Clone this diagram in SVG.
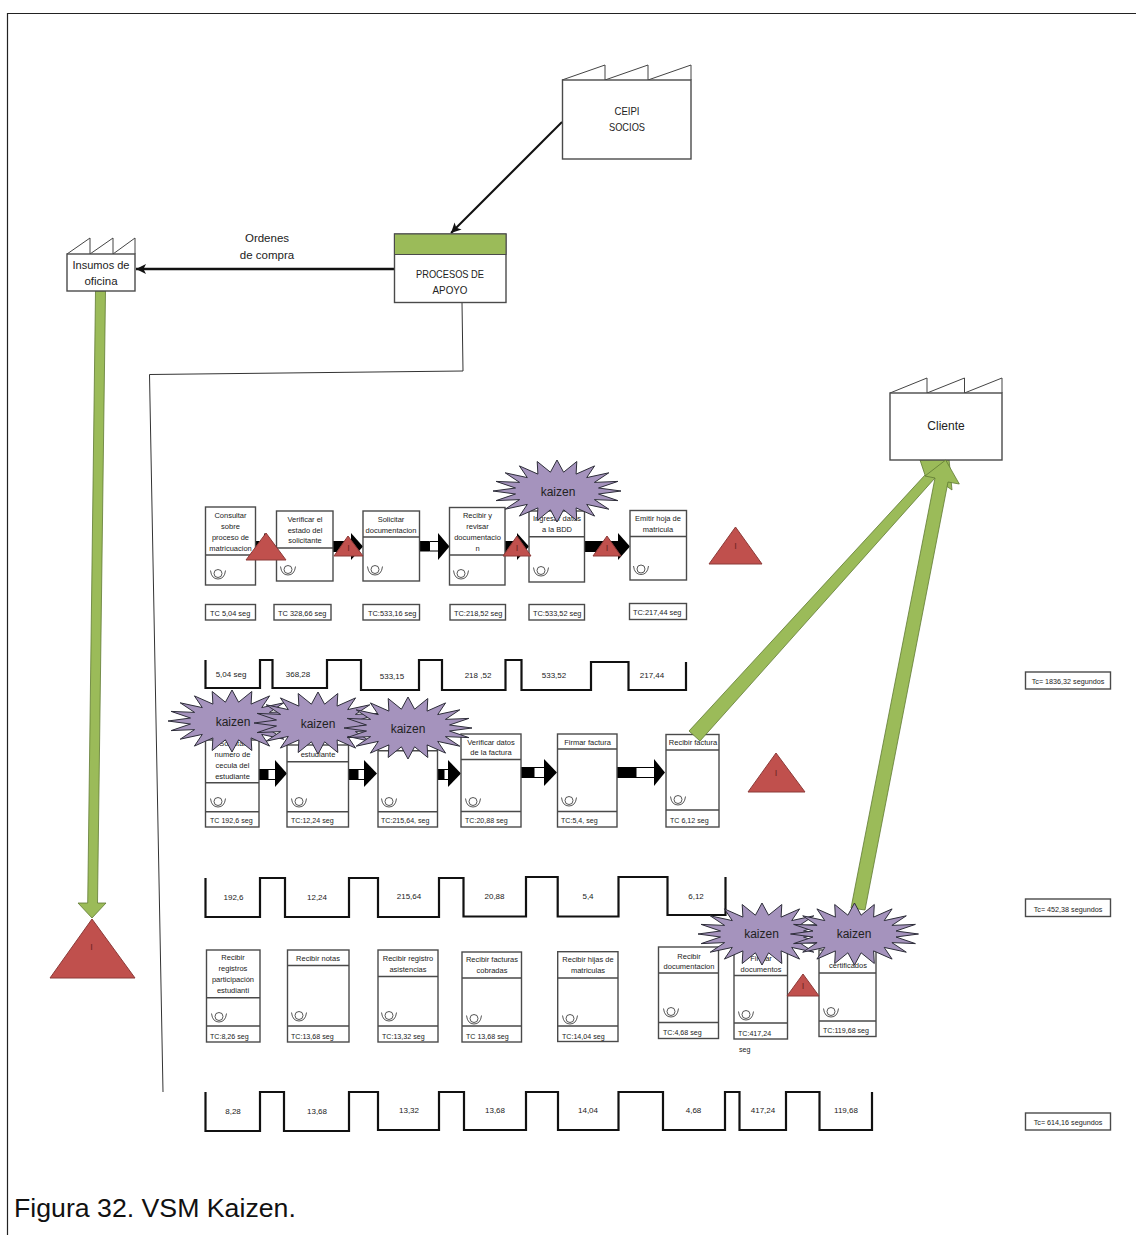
<svg xmlns="http://www.w3.org/2000/svg" width="1136" height="1236" viewBox="0 0 1136 1236">
<style>
text{font-family:"Liberation Sans",Arial,sans-serif;fill:#222;font-size:7.500px}
text:not([class]){font-size:7.100px}
#tc1 text{font-size:7.400px}
#tl1t text,#tl2t text,#tl3t text{font-size:8px}
.c{text-anchor:middle}
.box{fill:#fff;stroke:#4a4a4a;stroke-width:1.4}
.div{stroke:#4a4a4a;stroke-width:1.4;fill:none}
.tl{fill:none;stroke:#111;stroke-width:2.2;stroke-linejoin:miter}
.op{fill:none;stroke:#444;stroke-width:.9}
.red{fill:#c0504d;stroke:#8c3a38;stroke-width:1}
.grn{fill:#9bbb59;stroke:#5f7a32;stroke-width:.8}
.star{fill:#a593bd;stroke:#2e2e3a;stroke-width:1}
.k{font-size:12px;text-anchor:middle}
.m{font-size:11.500px;text-anchor:middle}
.i{font-size:9px;text-anchor:middle;fill:#6e2523}
</style>
<defs>
<g id="op"><circle r="4" cy="-.5" class="op"/><path class="op" d="M-7.500-3.500Q-6.500 5 0 5Q6.500 5 7.500-3.500"/></g>
<polygon id="kz" class="star" points="64,0 41.5,3 60.9,9.6 37.4,8.6 51.8,18.2 29.7,13.4 37.6,25.1 19.1,16.9 19.8,29.5 6.6,18.8 0,31 -6.6,18.8 -19.8,29.5 -19.1,16.9 -37.6,25.1 -29.7,13.4 -51.8,18.2 -37.4,8.6 -60.9,9.6 -41.5,3 -64,0 -41.5,-3 -60.9,-9.6 -37.4,-8.6 -51.8,-18.2 -29.7,-13.4 -37.6,-25.1 -19.1,-16.9 -19.8,-29.5 -6.6,-18.8 0,-31 6.6,-18.8 19.8,-29.5 19.1,-16.9 37.6,-25.1 29.7,-13.4 51.8,-18.2 37.4,-8.6 60.9,-9.6 41.5,-3"/>
<marker id="ah" markerUnits="userSpaceOnUse" markerWidth="12" markerHeight="12" refX="10" refY="5" orient="auto"><path d="M0 0L10 5L0 10L2.500 5Z" fill="#111"/></marker>
</defs>
<rect width="1136" height="1236" fill="#fff"/>
<path id="frame" d="M7.500 1235V13.500H1136" fill="none" stroke="#222" stroke-width="1.2"/>

<g id="connectors">
<path d="M562 122L451 233" stroke="#111" stroke-width="2" fill="none" marker-end="url(#ah)"/>
<path d="M394 269H136" stroke="#111" stroke-width="2.400" fill="none" marker-end="url(#ah)"/>
<path d="M462 302.500L463 371L149.500 374.500L163 1092" stroke="#333" stroke-width="1" fill="none"/>
<polygon class="grn" points="95.500,291 105.500,291 97.500,903 106,903 92,918 78,903 87.700,903"/>
<path d="M255 541h10v10h-10z" fill="#000"/><path d="M264 533l12 13.500-12 13.500z" fill="#000"/>
<path d="M333 541h16v11h-16z" fill="#000"/><path d="M351 533l12 13.500-12 13.500z" fill="#000"/>
<path d="M419.500 541h10v10.500h-10z" fill="#000"/><path d="M429.500 541.500h9v9.500h-9z" fill="#fff" stroke="#000"/><path d="M438 533l11.500 13.500-11.500 13.500z" fill="#000"/>
<path d="M505 541h14v11h-14z" fill="#000"/><path d="M517 533l12 13.500-12 13.500z" fill="#000"/>
<path d="M584.500 541h36v11h-36z" fill="#000"/><path d="M618 533l12 13.500-12 13.500z" fill="#000"/>
<path d="M259 769h9v11h-9z" fill="#000"/><path d="M268 769.500h8v10h-8z" fill="#fff" stroke="#000"/><path d="M275 760l12 13.500-12 13.500z" fill="#000"/>
<path d="M348 769h10v11h-10z" fill="#000"/><path d="M358 769.500h7v10h-7z" fill="#fff" stroke="#000"/><path d="M364 760l13 13.500-13 13.500z" fill="#000"/>
<path d="M438 769h6v11h-6z" fill="#000"/><path d="M444 769.500h5v10h-5z" fill="#fff" stroke="#000"/><path d="M448 760l13 13.500-13 13.500z" fill="#000"/>
<path d="M521 767h13v11h-13z" fill="#000"/><path d="M534 767.500h11v10h-11z" fill="#fff" stroke="#000"/><path d="M544 759l13 13.500-13 13.500z" fill="#000"/>
<path d="M617 767h19v11h-19z" fill="#000"/><path d="M636 767.500h19v10h-19z" fill="#fff" stroke="#000"/><path d="M654 759l11 13.500-11 13.500z" fill="#000"/>
</g>

<g id="ceipi"><path d="M562 80L605 65V80L648 65V80L691 65V80" fill="none" stroke="#444"/><rect class="box" x="562.500" y="80" width="128.500" height="79"/><text class="m" x="627" y="115" textLength="25" lengthAdjust="spacingAndGlyphs">CEIPI</text><text class="m" x="627" y="131" textLength="36" lengthAdjust="spacingAndGlyphs">SOCIOS</text></g>
<g id="insumos"><path d="M67 254L90 238V254L113 238V254L135 238V254" fill="none" stroke="#444"/><rect class="box" x="67" y="254" width="68" height="37"/><text class="m" x="101" y="269" textLength="57" lengthAdjust="spacingAndGlyphs">Insumos de</text><text class="m" x="101" y="285">oficina</text></g>
<g id="apoyo"><rect class="box" x="394.500" y="234" width="111.500" height="68.500"/><rect x="394.500" y="234" width="111.500" height="20.500" fill="#9bbb59" stroke="#4a4a4a"/><text class="m" x="450" y="278" textLength="68" lengthAdjust="spacingAndGlyphs">PROCESOS DE</text><text class="m" x="450" y="294" textLength="35" lengthAdjust="spacingAndGlyphs">APOYO</text></g>
<g id="ordenes"><text class="m" x="267" y="242">Ordenes</text><text class="m" x="267" y="259">de compra</text></g>

<g id="row1">
<g id="p1-1"><rect class="box" x="205.500" y="507" width="50" height="78"/><path class="div" d="M205.500 555h50"/><text class="c" x="230.500" y="517.500">Consultar</text><text class="c" x="230.500" y="528.500">sobre</text><text class="c" x="230.500" y="539.500">proceso de</text><text class="c" x="230.500" y="550.500">matricuacion</text><use href="#op" x="218" y="574"/></g>
<g id="p1-2"><rect class="box" x="276.500" y="511" width="56.500" height="70"/><path class="div" d="M276.500 548h56.500"/><text class="c" x="305" y="522">Verificar el</text><text class="c" x="305" y="533">estado del</text><text class="c" x="305" y="543">solicitante</text><use href="#op" x="288" y="570"/></g>
<g id="p1-3"><rect class="box" x="363" y="511" width="56.500" height="70"/><path class="div" d="M363 537h56.500"/><text class="c" x="391" y="522">Solicitar</text><text class="c" x="391" y="533">documentacion</text><use href="#op" x="375" y="570"/></g>
<g id="p1-4"><rect class="box" x="449.500" y="507.500" width="55.500" height="77.500"/><path class="div" d="M449.500 555h55.500"/><text class="c" x="477.500" y="518">Recibir y</text><text class="c" x="477.500" y="529">revisar</text><text class="c" x="477.500" y="540">documentacio</text><text class="c" x="477.500" y="551">n</text><use href="#op" x="461" y="574"/></g>
<g id="p1-5"><rect class="box" x="529" y="511" width="55.500" height="71"/><path class="div" d="M529 536.700h55.500"/><text class="c" x="557" y="521">Ingresar datos</text><text class="c" x="557" y="532">a la BDD</text><use href="#op" x="541" y="571"/></g>
<g id="p1-6"><rect class="box" x="630" y="510.500" width="56.500" height="69.500"/><path class="div" d="M630 536.500h56.500"/><text class="c" x="658" y="521">Emitir hoja de</text><text class="c" x="658" y="532">matricula</text><use href="#op" x="641" y="569.500"/></g>
<g id="tc1"><rect class="box" x="205.500" y="604.500" width="50" height="15.500"/><text x="210" y="616">TC 5,04 seg</text><rect class="box" x="274" y="604.500" width="57" height="15.500"/><text x="278" y="616">TC 328,66 seg</text><rect class="box" x="363" y="604.500" width="56.500" height="15.500"/><text x="368" y="616">TC:533,16 seg</text><rect class="box" x="450" y="604.500" width="55.500" height="15.500"/><text x="454" y="616">TC:218,52 seg</text><rect class="box" x="529" y="604.500" width="55.500" height="15.500"/><text x="533" y="616">TC:533,52 seg</text><rect class="box" x="629.500" y="603.500" width="57" height="16"/><text x="633" y="615">TC:217,44 seg</text></g>
<path id="tl1" class="tl" d="M205.500 660V688H260V660H272.500V688H327V660H361V690H419V660H442V690H505.500V660H521.500V690H591V662H628.500V690H686V662"/>
<g id="tl1t"><text class="c" x="231" y="677">5,04 seg</text><text class="c" x="298" y="677">368,28</text><text class="c" x="392" y="679">533,15</text><text class="c" x="478" y="678">218 ,52</text><text class="c" x="554" y="678">533,52</text><text class="c" x="652" y="678">217,44</text></g>
</g>

<g id="row2">
<g id="p2-1"><rect class="box" x="205.500" y="740" width="53.500" height="87"/><path class="div" d="M205.500 782.700h53.500M205.500 811.700h53.500"/><text class="c" x="232.500" y="746">Solicitar</text><text class="c" x="232.500" y="757">numero de</text><text class="c" x="232.500" y="768">cecula del</text><text class="c" x="232.500" y="779">estudiante</text><use href="#op" x="218" y="802"/><text x="210" y="823">TC 192,6 seg</text></g>
<g id="p2-2"><rect class="box" x="287" y="745" width="61.500" height="82"/><path class="div" d="M287 761.700h61.500M287 811.700h61.500"/><text class="c" x="318" y="757">estudiante</text><use href="#op" x="299" y="802"/><text x="291" y="823">TC:12,24 seg</text></g>
<g id="p2-3"><rect class="box" x="378" y="745" width="59.500" height="82"/><path class="div" d="M378 750.700h59.500M378 811.700h59.500"/><use href="#op" x="389" y="802"/><text x="381" y="823">TC:215,64, seg</text></g>
<g id="p2-4"><rect class="box" x="461" y="734" width="60" height="93"/><path class="div" d="M461 759.500h60M461 811.500h60"/><text class="c" x="491" y="744.500">Verificar datos</text><text class="c" x="491" y="755">de la factura</text><use href="#op" x="473" y="802"/><text x="465" y="823">TC:20,88 seg</text></g>
<g id="p2-5"><rect class="box" x="557.500" y="734" width="59.500" height="93"/><path class="div" d="M557.500 749h59.500M557.500 811.500h59.500"/><text class="c" x="587.500" y="744.500">Firmar factura</text><use href="#op" x="569" y="801"/><text x="561" y="823">TC:5,4, seg</text></g>
<g id="p2-6"><rect class="box" x="666" y="734.500" width="53" height="92.500"/><path class="div" d="M666 750h53M666 810h53"/><text class="c" x="693" y="745">Recibir factura</text><use href="#op" x="678" y="800"/><text x="670" y="823">TC 6,12 seg</text></g>
<path id="tl2" class="tl" d="M205.500 878V917H260V878H285V917H349V878H378V917H439V878H463.500V916.500H526V877H557.700V916.500H618.500V877H667.500V915H725.500V877"/>
<g id="tl2t"><text class="c" x="233.500" y="899.500">192,6</text><text class="c" x="317" y="899.500">12,24</text><text class="c" x="409" y="899">215,64</text><text class="c" x="494.500" y="899">20,88</text><text class="c" x="588" y="899">5,4</text><text class="c" x="696" y="899">6,12</text></g>
</g>

<g id="row3">
<g id="p3-1"><rect class="box" x="206.500" y="950" width="53.500" height="92"/><path class="div" d="M206.500 997.700h53.500M206.500 1026h53.500"/><text class="c" x="233" y="960">Recibir</text><text class="c" x="233" y="971">registros</text><text class="c" x="233" y="982">participación</text><text class="c" x="233" y="993">estudianti</text><use href="#op" x="219" y="1017"/><text x="210" y="1038.500">TC:8,26 seg</text></g>
<g id="p3-2"><rect class="box" x="287.500" y="950" width="61.500" height="92"/><path class="div" d="M287.500 965.500h61.500M287.500 1026h61.500"/><text class="c" x="318" y="961">Recibir notas</text><use href="#op" x="299" y="1016"/><text x="291" y="1038.500">TC:13,68 seg</text></g>
<g id="p3-3"><rect class="box" x="378" y="950" width="60" height="92"/><path class="div" d="M378 976.500h60M378 1026h60"/><text class="c" x="408" y="961">Recibir registro</text><text class="c" x="408" y="971.500">asistencias</text><use href="#op" x="389" y="1016"/><text x="382" y="1038.500">TC:13,32 seg</text></g>
<g id="p3-4"><rect class="box" x="462" y="952" width="59.500" height="90"/><path class="div" d="M462 978h59.500M462 1026h59.500"/><text class="c" x="492" y="962">Recibir facturas</text><text class="c" x="492" y="973">cobradas</text><use href="#op" x="474" y="1019"/><text x="466" y="1038.500">TC 13,68 seg</text></g>
<g id="p3-5"><rect class="box" x="557.700" y="951.700" width="60.300" height="89.800"/><path class="div" d="M557.700 978h60.300M557.700 1026h60.300"/><text class="c" x="588" y="962">Recibir hijas de</text><text class="c" x="588" y="973">matriculas</text><use href="#op" x="570" y="1019"/><text x="562" y="1038.500">TC:14,04 seg</text></g>
<g id="p3-6"><rect class="box" x="658.500" y="947" width="60" height="91.500"/><path class="div" d="M658.500 973h60M658.500 1022.500h60"/><text class="c" x="689" y="959">Recibir</text><text class="c" x="689" y="969">documentacion</text><use href="#op" x="671" y="1012"/><text x="663" y="1035">TC:4,68 seg</text></g>
<g id="p3-7"><rect class="box" x="734" y="950" width="53.500" height="89"/><path class="div" d="M734 975.500h53.500M734 1023h53.500"/><text class="c" x="761" y="961">Firmar</text><text class="c" x="761" y="972">documentos</text><use href="#op" x="746" y="1015"/><text x="738" y="1036">TC:417,24</text><text x="739" y="1052">seg</text></g>
<g id="p3-8"><rect class="box" x="819" y="950" width="57" height="86.500"/><path class="div" d="M819 973h57M819 1021h57"/><text class="c" x="848" y="968">certificados</text><use href="#op" x="831" y="1012"/><text x="823" y="1033">TC:119,68 seg</text></g>
<path id="tl3" class="tl" d="M205.500 1092V1131H260V1092H284V1131H349V1092H378V1130H439V1092H464V1130H526V1092H558V1130H618.500V1092H663V1130H725V1092H739.500V1130H786V1092H819.500V1130H872V1092"/>
<g id="tl3t"><text class="c" x="233" y="1113.500">8,28</text><text class="c" x="317" y="1113.500">13,68</text><text class="c" x="409" y="1112.500">13,32</text><text class="c" x="495" y="1112.500">13,68</text><text class="c" x="588" y="1112.500">14,04</text><text class="c" x="693.500" y="1112.500">4,68</text><text class="c" x="763" y="1112.500">417,24</text><text class="c" x="846" y="1112.500">119,68</text></g>
</g>

<g id="totals">
<rect class="box" x="1025.500" y="672" width="85" height="17"/><text class="c" x="1068" y="684" style="font-size:7.200px">Tc= 1836,32 segundos</text>
<rect class="box" x="1025.500" y="899" width="85" height="17.500"/><text class="c" x="1068" y="911.500" style="font-size:7.200px">Tc= 452,38 segundos</text>
<rect class="box" x="1025.500" y="1113" width="85" height="17"/><text class="c" x="1068" y="1125" style="font-size:7.200px">Tc= 614,16 segundos</text>
</g>

<polygon id="arrow-a" class="grn" points="689,731 925,475 920,460 949,459 952,490 935,478 700,741"/>
<g id="cliente"><path d="M890 393L927 378V393L964.500 378V393L1002 378V393" fill="none" stroke="#444"/><rect class="box" x="890" y="393" width="112" height="67"/><text class="k" x="946" y="430">Cliente</text></g>
<polygon id="arrow-b" class="grn" points="851,908 935,478 925,476 945.700,460 959.300,484 948,482 865,910"/>

<g id="inventory">
<polygon class="red" points="266,533 286,560 246,560"/>
<polygon class="red" points="348,536 363,556 334,556"/><text class="i" x="348.500" y="551">I</text>
<polygon class="red" points="517,536 531,556 503,556"/><text class="i" x="517" y="551">I</text>
<polygon class="red" points="607,536 621,556 593,556"/><text class="i" x="607" y="551">I</text>
<polygon class="red" points="735.500,527 762,564 709,564"/><text class="i" x="735.500" y="549">I</text>
<polygon class="red" points="776,753 805,792 748,792"/><text class="i" x="776" y="776">I</text>
<polygon class="red" points="92,919 135,978 50,978"/><text class="i" x="91.500" y="950">I</text>
<polygon class="red" points="803,974 819,996 787,996"/><text class="i" x="803" y="989">I</text>
</g>

<g id="kaizen">
<g id="k1"><use href="#kz" x="557" y="491"/><text class="k" x="558" y="495.500">kaizen</text></g>
<g id="k2"><use href="#kz" x="232" y="721"/><text class="k" x="233" y="725.500">kaizen</text></g>
<g id="k3"><use href="#kz" x="318" y="723"/><text class="k" x="318" y="727.500">kaizen</text></g>
<g id="k4"><use href="#kz" x="408" y="728"/><text class="k" x="408" y="732.500">kaizen</text></g>
<g id="k5"><use href="#kz" x="762" y="934"/><text class="k" x="761.500" y="938">kaizen</text></g>
<g id="k6"><use href="#kz" x="854.500" y="934"/><text class="k" x="854" y="938">kaizen</text></g>
</g>

<text id="caption" x="14" y="1217" style="font-size:26.700px;fill:#111">Figura 32. VSM Kaizen.</text>
</svg>
